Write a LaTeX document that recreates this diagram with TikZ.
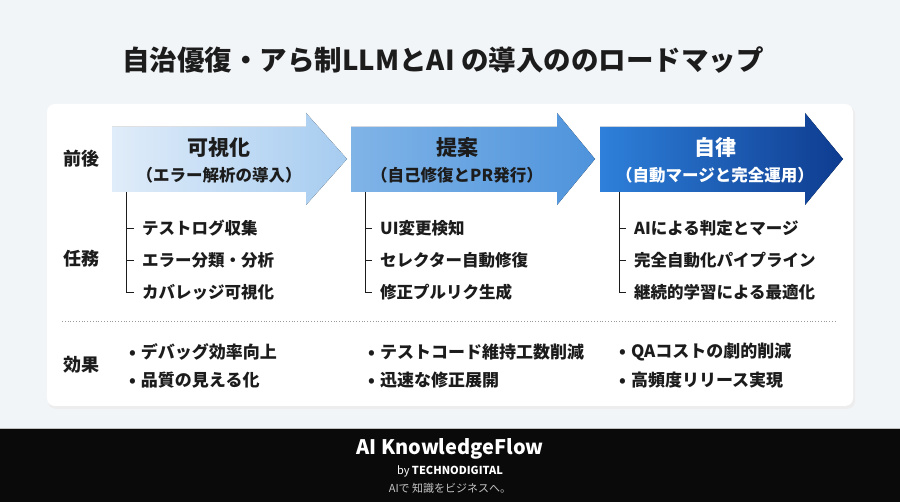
\documentclass[tikz,border=0pt]{standalone}
\usepackage{fontspec}
\setmainfont{Noto Sans CJK JP}
\usepackage{xcolor}
\usepackage{tikz}
\usetikzlibrary{positioning,calc}

\definecolor{pageBg}{HTML}{F2F5F8}
\definecolor{inkDark}{HTML}{1C1C1C}
\definecolor{dotGray}{HTML}{9A9A9A}
\definecolor{arrowA1}{HTML}{E0ECF9}
\definecolor{arrowA2}{HTML}{A6CCF0}
\definecolor{arrowB1}{HTML}{80B4E7}
\definecolor{arrowB2}{HTML}{4E93DC}
\definecolor{arrowC1}{HTML}{2E80DA}
\definecolor{arrowC2}{HTML}{0E3C90}
\definecolor{footBg}{HTML}{0A0A0A}
\definecolor{footGray}{HTML}{C4C4C4}

\begin{document}
\begin{tikzpicture}[
  x=1pt, y=-1pt,
  every node/.style={inner sep=0pt, text=inkDark},
  mainTitle/.style={font=\fontsize{27.5}{30}\selectfont\bfseries},
  rowLabel/.style={font=\fontsize{18}{20}\selectfont\bfseries},
  phaseTitle/.style={font=\fontsize{21}{24}\selectfont\bfseries},
  phaseSub/.style={font=\fontsize{16.5}{18}\selectfont\bfseries},
  taskItem/.style={anchor=west, font=\fontsize{16.5}{18}\selectfont\bfseries},
  effectItem/.style={anchor=west, font=\fontsize{17}{18}\selectfont\bfseries},
  treeLine/.style={draw=inkDark, line width=0.8pt},
  tick/.style={treeLine, shorten >=8pt}
]
  \useasboundingbox (0,0) rectangle (900,502);

  % Background, card and footer band
  \fill[pageBg] (0,0) rectangle (900,428);
  \fill[black!7, rounded corners=8pt] (48,106) rectangle (855,409);
  \fill[white, rounded corners=8pt] (47,104) rectangle (853,406);
  \fill[footBg] (0,428) rectangle (900,502);
  \draw[black!25, line width=0.6pt] (0,428) -- (900,428);

  % Title
  \node[mainTitle] (title) at (443,60) {自治優復・アら制LLMとAI の導入ののロードマップ};

  % Row labels
  \node[rowLabel] (lblPhase)  at (81,159) {前後};
  \node[rowLabel] (lblTask)   at (81,259) {任務};
  \node[rowLabel] (lblEffect) at (81,365) {効果};

  % Phase arrows
  \fill[left color=arrowA1, right color=arrowA2]
    (112,127) -- (306,127) -- (306,113) -- (347,159) -- (306,205) -- (306,192) -- (112,192) -- cycle;
  \fill[left color=arrowB1, right color=arrowB2]
    (351,127) -- (557,127) -- (557,113) -- (595,159) -- (557,205) -- (557,192) -- (351,192) -- cycle;
  \fill[left color=arrowC1, right color=arrowC2]
    (600,127) -- (805,127) -- (805,113) -- (843,159) -- (805,205) -- (805,192) -- (600,192) -- cycle;

  \node[phaseTitle] (phaseA) at (219,148) {可視化};
  \node[phaseSub, below=9pt of phaseA] (subA) {（エラー解析の導入）};
  \node[phaseTitle] (phaseB) at (457,148) {提案};
  \node[phaseSub, below=9pt of phaseB] (subB) {（自己修復とPR発行）};
  \node[phaseTitle, text=white] (phaseC) at (715,148) {自律};
  \node[phaseSub, text=white, below=9pt of phaseC] (subC) {（自動マージと完全運用）};

  % Tasks
  \coordinate (rootA) at (126,192);
  \node[taskItem] (taskA1) at (142,228) {テストログ収集};
  \node[taskItem] (taskA2) at (142,260) {エラー分類・分析};
  \node[taskItem] (taskA3) at (142,292) {カバレッジ可視化};
  \draw[tick] (rootA) |- (taskA3.west);
  \draw[tick] (taskA1.west -| rootA) -- (taskA1.west);
  \draw[tick] (taskA2.west -| rootA) -- (taskA2.west);

  \coordinate (rootB) at (365,192);
  \node[taskItem] (taskB1) at (380,228) {UI変更検知};
  \node[taskItem] (taskB2) at (380,260) {セレクター自動修復};
  \node[taskItem] (taskB3) at (380,292) {修正プルリク生成};
  \draw[tick] (rootB) |- (taskB3.west);
  \draw[tick] (taskB1.west -| rootB) -- (taskB1.west);
  \draw[tick] (taskB2.west -| rootB) -- (taskB2.west);

  \coordinate (rootC) at (619,192);
  \node[taskItem] (taskC1) at (634,228) {AIによる判定とマージ};
  \node[taskItem] (taskC2) at (634,260) {完全自動化パイプライン};
  \node[taskItem] (taskC3) at (634,292) {継続的学習による最適化};
  \draw[tick] (rootC) |- (taskC3.west);
  \draw[tick] (taskC1.west -| rootC) -- (taskC1.west);
  \draw[tick] (taskC2.west -| rootC) -- (taskC2.west);

  % Divider
  \coordinate (divL) at (62,321);
  \coordinate (divR) at (836,321);
  \draw[dotGray, dotted, line width=0.8pt] (divL) -- (divR);

  % Effects
  \node[effectItem] (effA1) at (129,352) {•\hspace{5pt}デバッグ効率向上};
  \node[effectItem] (effA2) at (129,380) {•\hspace{5pt}品質の見える化};
  \node[effectItem] (effB1) at (368,352) {•\hspace{5pt}テストコード維持工数削減};
  \node[effectItem] (effB2) at (368,380) {•\hspace{5pt}迅速な修正展開};
  \node[effectItem] (effC1) at (619,352) {•\hspace{5pt}QAコストの劇的削減};
  \node[effectItem] (effC2) at (619,380) {•\hspace{5pt}高頻度リリース実現};

  % Footer
  \node[text=white, font=\fontsize{20}{22}\selectfont\bfseries] (brand) at (450,449) {AI KnowledgeFlow};
  \node[text=white, font=\fontsize{11}{13}\selectfont, below=6pt of brand] (byline) {by \textbf{TECHNODIGITAL}};
  \node[text=footGray, font=\fontsize{11}{13}\selectfont, below=6pt of byline] (slogan) {AIで 知識をビジネスへ。};
\end{tikzpicture}
\end{document}
